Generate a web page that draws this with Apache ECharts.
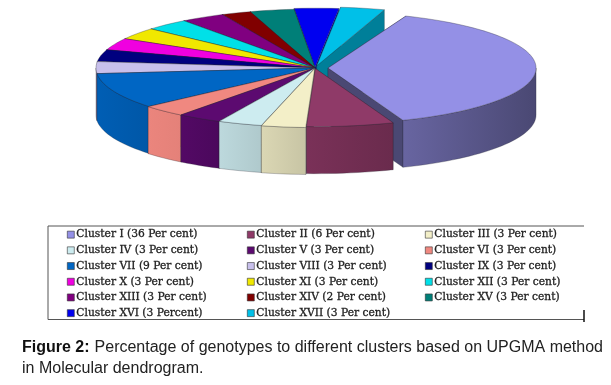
<!DOCTYPE html>
<html><head><meta charset="utf-8">
<style>html,body{margin:0;padding:0;background:#fff}#c{width:611px;height:385px}</style>
<script src="https://cdn.jsdelivr.net/npm/echarts@6/dist/echarts.min.js"></script>
</head><body><div id="c"></div>
<script>
const clusters = ['I','II','III','IV','V','VI','VII','VIII','IX','X','XI','XII','XIII','XIV','XV','XVI','XVII'];
const values = [36,6,3,3,3,3,9,3,3,3,3,3,3,2,3,3,3];
const labels = ['Cluster I (36 Per cent)','Cluster II (6 Per cent)','Cluster III (3 Per cent)','Cluster IV (3 Per cent)','Cluster V (3 Per cent)','Cluster VI (3 Per cent)','Cluster VII (9 Per cent)','Cluster VIII (3 Per cent)','Cluster IX (3 Per cent)','Cluster X (3 Per cent)','Cluster XI (3 Per cent)','Cluster XII (3 Per cent)','Cluster XIII (3 Per cent)','Cluster XIV (2 Per cent)','Cluster XV (3 Per cent)','Cluster XVI (3 Percent)','Cluster XVII (3 Per cent)'];
const colors = ['#9490e6','#8f3a68','#f3efc8','#cdecf0','#5c0a70','#f08880','#0066c4','#c8c0ec','#00007f','#f000e0','#f0e800','#00e0e8','#800080','#800000','#007f78','#0000f0','#00c0e8'];
const wallShade = [0.3,0.15,0.1,0.08,0.1,0.02,0.08,0.2,0.2,0.2,0.2,0.2,0.2,0.2,0.2,0.2,0.2];
const explode = [13,2,2,1,1,1,0,0,0,0,0,0,0,0,0,3,8];
const radiusScale = [0.95,0.985,1,1,1,1,1,1,1,1,1,1,1,1,1,1,1];

const cx=315, cy=68, rx=219, ry=59, depth=47, startDeg=-72;
const total = values.reduce((a,b)=>a+b,0);
const rad = d=>d*Math.PI/180;
const spans=[]; let acc=startDeg;
values.forEach(v=>{const s=acc; acc+=v/total*360; spans.push([s,acc]);});
spans[0][0]+=4;

function shade(c,f){
  const p=echarts.color.parse(c);
  return 'rgb('+[0,1,2].map(k=>Math.round(p[k]*f)).join(',')+')';
}

function slice(i,api){
  const [a0,a1]=spans[i];
  const mid=rad((a0+a1)/2), e=explode[i], rs=radiusScale[i];
  const ox=cx+Math.cos(mid)*e, oy=cy+Math.sin(mid)*e*ry/rx;
  const pt=(d,dz)=>[ox+rx*rs*Math.cos(rad(d)),oy+ry*rs*Math.sin(rad(d))+(dz||0)];
  const arc=(p,q,dz)=>{const n=Math.max(2,Math.ceil(Math.abs(q-p)/2)),r=[];for(let k=0;k<=n;k++)r.push(pt(p+(q-p)*k/n,dz));return r;};
  const col=colors[i], s=wallShade[i];
  const wallLight=shade(col,1-s), wallDark=shade(col,1-s*1.6-0.02);
  const line='rgba(40,40,50,0.55)';
  const kids=[];
  const wall=(d)=>{const p=pt(d);return {type:'polygon',shape:{points:[[ox,oy],p,[p[0],p[1]+depth],[ox,oy+depth]]},style:{fill:wallDark,stroke:line,lineWidth:0.5}};};
  kids.push(wall(a0),wall(a1));
  const p=Math.max(a0,0), q=Math.min(a1,180);
  if(q>p){
    const top=arc(p,q,0), bot=arc(q,p,depth);
    kids.push({type:'polygon',shape:{points:top.concat(bot)},style:{fill:new echarts.graphic.LinearGradient(1,0,0,0,[{offset:0,color:wallDark},{offset:1,color:wallLight}]),stroke:line,lineWidth:0.5}});
  }
  kids.push({type:'polygon',shape:{points:[[ox,oy]].concat(arc(a0,a1,0))},style:{fill:col,stroke:line,lineWidth:0.6}});
  return {type:'group',children:kids};
}

const depthKey=i=>{const [s,e]=spans[i];return Math.sin(rad((s+e)/2))+(s<=90&&e>=90?1:0);};
const order=values.map((_,i)=>i).sort((a,b)=>depthKey(a)-depthKey(b));
const series=values.map((v,i)=>({
  type:'custom',name:labels[i],coordinateSystem:'none',silent:true,animation:false,
  z:2+order.indexOf(i),itemStyle:{color:colors[i]},
  data:[[v]],renderItem:(p,api)=>slice(i,api)
}));

const legendBase={orient:'vertical',top:229,itemWidth:7,itemHeight:7,itemGap:4.4,icon:'rect',
  selectedMode:false,padding:0,
  itemStyle:{borderColor:'#333',borderWidth:0.6},
  textStyle:{fontFamily:'DejaVu Serif',fontSize:10.7,fontWeight:'normal',color:'#222',textBorderColor:'#222',textBorderWidth:0.3,padding:[0,0,0,-3]}};
const col=(k)=>labels.filter((_,i)=>i%3===k);

const chart=echarts.init(document.getElementById('c'),null,{renderer:'canvas'});
chart.setOption({
  backgroundColor:'#fff',animation:false,
  title:{left:22,top:337,padding:0,itemGap:0,
    text:'{b|Figure 2:} {n|Percentage of genotypes to different clusters based on UPGMA method}\n{n|in Molecular dendrogram.}',
    textStyle:{fontWeight:'normal',rich:{b:{fontFamily:'Liberation Sans',fontSize:16,fontWeight:'bold',color:'#111',lineHeight:21},n:{fontFamily:'Liberation Sans',fontSize:16,fontWeight:'normal',color:'#222',lineHeight:21}}}},
  legend:[
    Object.assign({},legendBase,{left:67,data:col(0)}),
    Object.assign({},legendBase,{left:247,data:col(1)}),
    Object.assign({},legendBase,{left:425,data:col(2)})
  ],
  graphic:[
    {type:'polyline',silent:true,shape:{points:[[584,226],[48,226],[48,319.5],[584,319.5]]},style:{stroke:'#555',lineWidth:1,fill:null}},
    {type:'line',silent:true,shape:{x1:584,y1:310,x2:584,y2:322},style:{stroke:'#111',lineWidth:1.5}}
  ],
  series
});
</script></body></html>
